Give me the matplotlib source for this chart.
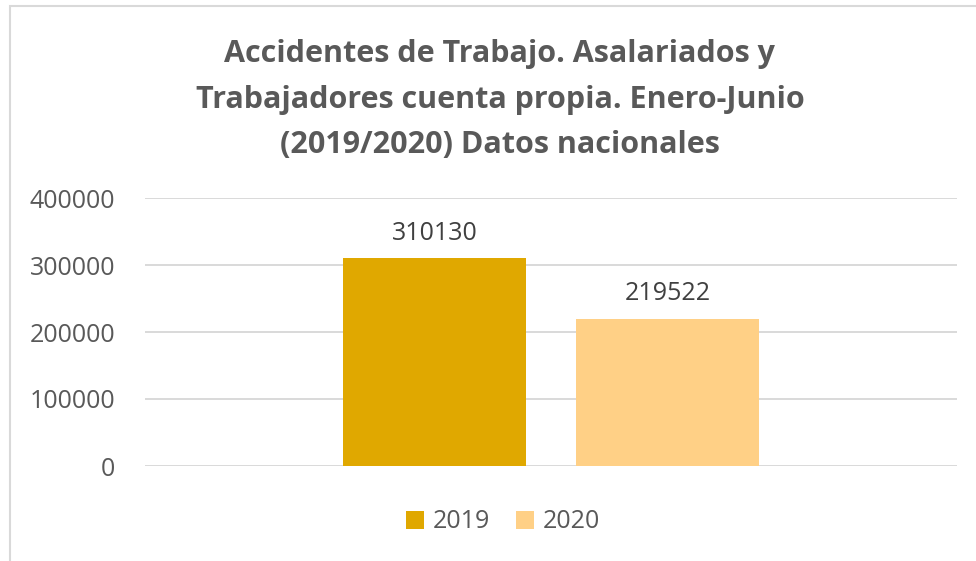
import matplotlib
matplotlib.use("Agg")
import matplotlib.pyplot as plt
from matplotlib.patches import Rectangle, Patch

# data
series = ["2019", "2020"]
values = [310130, 219522]
colors = ["#E0A800", "#FFD086"]
yticks = [0, 100000, 200000, 300000, 400000]
title_lines = ["Accidentes de Trabajo. Asalariados y",
               "Trabajadores cuenta propia. Enero-Junio",
               "(2019/2020) Datos nacionales"]

plt.rcParams["font.family"] = ["Open Sans", "DejaVu Sans"]

W, H = 976, 561
fig = plt.figure(figsize=(W / 100, H / 100), dpi=100)

# chart border (right and bottom edges fall outside the image)
fig.patches.append(Rectangle((10 / W, -0.1), 1.2, 1 - 6 / H + 0.1, transform=fig.transFigure,
                             fill=False, edgecolor="#D9D9D9", linewidth=1.5))

ax = fig.add_axes([145 / W, 1 - 466 / H, (957 - 145) / W, (466 - 198) / H])
offsets = [-0.1435, 0.1435]
for off, v, c, s in zip(offsets, values, colors, series):
    b = ax.bar(off, v, width=0.2254, color=c, label=s, zorder=3)
    ax.bar_label(b, labels=[f"{v}"], padding=9, fontsize=18, color="#404040")

ax.set_xlim(-0.5, 0.5)
ax.set_ylim(0, 400000)
ax.set_yticks(yticks)
ax.set_yticklabels([str(t) for t in yticks], fontsize=18, color="#595959")
ax.set_xticks([])
ax.tick_params(axis="y", length=0, pad=21.5)
ax.grid(axis="y", color="#D9D9D9", linewidth=1.4, zorder=0)
for sp in ax.spines.values():
    sp.set_visible(False)

# title, one line at a time to match the original line spacing
for line, base in zip(title_lines, [62, 108, 153]):
    fig.text(500 / W, 1 - base / H, line, ha="center", va="baseline", fontsize=22,
             fontweight="bold", color="#595959")

handles = [Patch(facecolor=c, label=s) for c, s in zip(colors, series)]
fig.legend(handles=handles, loc="center", bbox_to_anchor=(503 / W, 1 - 522 / H),
           ncol=2, frameon=False, fontsize=18, handlelength=0.75, handleheight=0.75,
           handletextpad=0.35, columnspacing=1.0, labelcolor="#595959")

fig.savefig("out.png", dpi=100)
